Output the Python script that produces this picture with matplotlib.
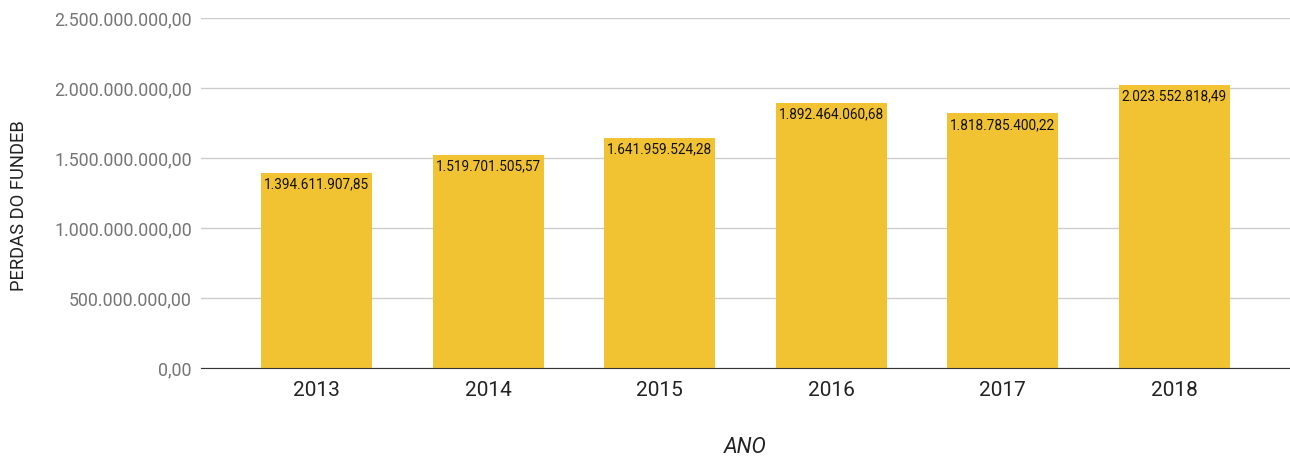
import matplotlib.pyplot as plt
from matplotlib.ticker import FuncFormatter

# -----------------------
# DATA
# -----------------------
years = ["2013", "2014", "2015", "2016", "2017", "2018"]
perdas = [1394611907.85, 1519701505.57, 1641959524.28,
          1892464060.68, 1818785400.22, 2023552818.49]
y_ticks = [0, 500e6, 1000e6, 1500e6, 2000e6, 2500e6]


def br(v, pos=None):
    s = f"{v:,.2f}"
    return s.replace(",", "X").replace(".", ",").replace("X", ".")


plt.rcParams["font.family"] = ["Roboto", "DejaVu Sans"]

fig = plt.figure(figsize=(12.9, 4.58), dpi=100)
ax = fig.add_axes([0.1558, 0.1965, 0.8442, 0.7642])

x = range(len(years))
bars = ax.bar(x, perdas, width=0.647, color="#F1C232", zorder=2)

for b, v in zip(bars, perdas):
    ax.text(b.get_x() + b.get_width() / 2, v - 0.032e9, br(v),
            ha="center", va="top", fontsize=9.8, color="#111111", zorder=3)

ax.set_xlim(-0.675, 5.675)
ax.set_ylim(0, 2.5e9)
ax.set_yticks(y_ticks)
ax.yaxis.set_major_formatter(FuncFormatter(br))
ax.set_xticks(list(x))
ax.set_xticklabels(years)

ax.grid(axis="y", color="#cccccc", linewidth=1, zorder=0)
for s in ["top", "right", "left"]:
    ax.spines[s].set_visible(False)
ax.spines["bottom"].set_color("#333333")
ax.spines["bottom"].set_zorder(4)

ax.tick_params(axis="y", length=0, pad=6.5, labelsize=12.8, labelcolor="#757575")
ax.tick_params(axis="x", length=0, pad=9, labelsize=15, labelcolor="#222222")

ax.set_ylabel("PERDAS DO FUNDEB", fontsize=13.2, color="#222222")
ax.yaxis.set_label_coords(-0.159, 0.465)
ax.set_xlabel("ANO", fontsize=15.5, style="italic", color="#222222", labelpad=27)

fig.savefig("out.png", dpi=100)
